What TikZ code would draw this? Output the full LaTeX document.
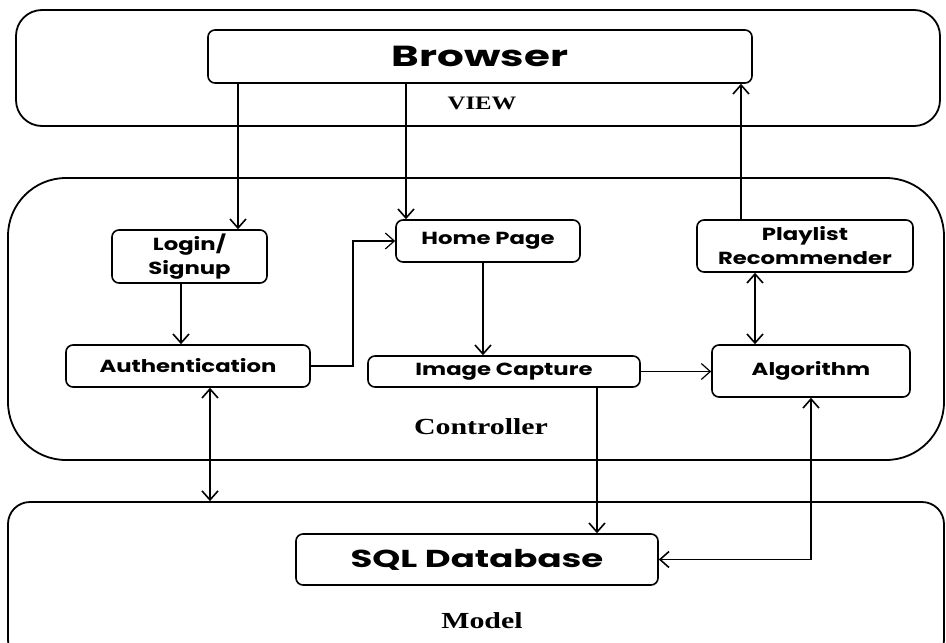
\documentclass[tikz,border=0pt]{standalone}
\usepackage{fontspec}
\setmainfont{Poppins}[FakeStretch=1.3]
\newfontfamily\bigfont[FakeStretch=1.45]{Poppins}
\newfontfamily\labfont[FakeStretch=1.3]{Liberation Serif}
\usetikzlibrary{arrows.meta}
\begin{document}
\begin{tikzpicture}[x=1pt,y=-1pt,
  layer/.style={draw, line width=1.8pt, inner sep=0pt},
  box/.style={draw, line width=1.6pt, rounded corners=7pt, inner sep=0pt, align=center,
    font=\bfseries\fontsize{17.5}{24}\selectfont},
  lbl/.style={inner sep=0pt},
  arr/.style={line width=1.6pt, -{Straight Barb[length=9pt,width=16pt,line width=1.6pt]}},
  arrthin/.style={line width=1.1pt, -{Straight Barb[length=9pt,width=16pt,line width=1.2pt]}},
  darr/.style={line width=1.6pt, {Straight Barb[length=9pt,width=16pt,line width=1.6pt]}-{Straight Barb[length=9pt,width=16pt,line width=1.6pt]}}
]
\useasboundingbox (0,0) rectangle (946,643);
\fill[white] (0,0) rectangle (946,643);

% layers
\node[layer, rounded corners=26pt, minimum width=924pt, minimum height=116pt] (view) at (478,68) {};
\node[layer, rounded corners=58pt, minimum width=936pt, minimum height=282pt] (ctrl) at (476,319) {};
\node[layer, rounded corners=22pt, minimum width=936pt, minimum height=160pt] (model) at (476,582) {};

% boxes
\node[box, minimum width=544pt, minimum height=53pt, font=\bigfont\bfseries\fontsize{29}{32}\selectfont] (browser) at (480,56.5) {Browser};
\node[box, minimum width=155pt, minimum height=53pt] (login) at (189.5,256.5) {Login/\\Signup};
\node[box, minimum width=244pt, minimum height=42pt] (auth) at (188,366) {Authentication};
\node[box, minimum width=184pt, minimum height=42pt] (home) at (488,241) {Home Page};
\node[box, minimum width=272pt, minimum height=31pt] (img) at (504,371.5) {Image Capture};
\node[box, minimum width=216pt, minimum height=52pt] (play) at (805,246) {Playlist\\Recommender};
\node[box, minimum width=198pt, minimum height=52pt] (algo) at (811,371) {Algorithm};
\node[box, minimum width=362pt, minimum height=51pt, font=\bigfont\bfseries\fontsize{24.5}{28}\selectfont] (sql) at (477,559.5) {SQL Database};

% labels
\node[lbl, font=\labfont\bfseries\fontsize{19}{22}\selectfont] (viewlbl) at (482,103) {VIEW};
\node[lbl, font=\labfont\bfseries\fontsize{23}{26}\selectfont] (ctrllbl) at (481,427) {Controller};
\node[lbl, font=\labfont\bfseries\fontsize{23}{26}\selectfont] (modellbl) at (482,621) {Model};

% helper x positions
\coordinate (x1) at (238,0);
\coordinate (x2) at (406,0);
\coordinate (x3) at (741,0);
\coordinate (x4) at (181,0);
\coordinate (x5) at (353,0);
\coordinate (x6) at (483,0);
\coordinate (x8) at (755,0);
\coordinate (x9) at (210,0);
\coordinate (x10) at (597,0);

% connectors
\draw[arr] (browser.south -| x1) -- (login.north -| x1);
\draw[arr] (browser.south -| x2) -- (home.north -| x2);
\draw[arr] (play.north -| x3) -- (browser.south -| x3);
\draw[arr] (login.south -| x4) -- (auth.north -| x4);
\draw[arrthin] (auth.east) -- (auth.east -| x5) |- (home.west);
\draw[arr] (home.south -| x6) -- (img.north -| x6);
\draw[arrthin] (img.east) -- (img.east -| algo.west);
\draw[darr] (play.south -| x8) -- (algo.north -| x8);
\draw[darr] (auth.south -| x9) -- (model.north -| x9);
\draw[arr] (img.south -| x10) -- (sql.north -| x10);
\draw[darr] (sql.east) -| (algo.south);
\end{tikzpicture}
\end{document}
